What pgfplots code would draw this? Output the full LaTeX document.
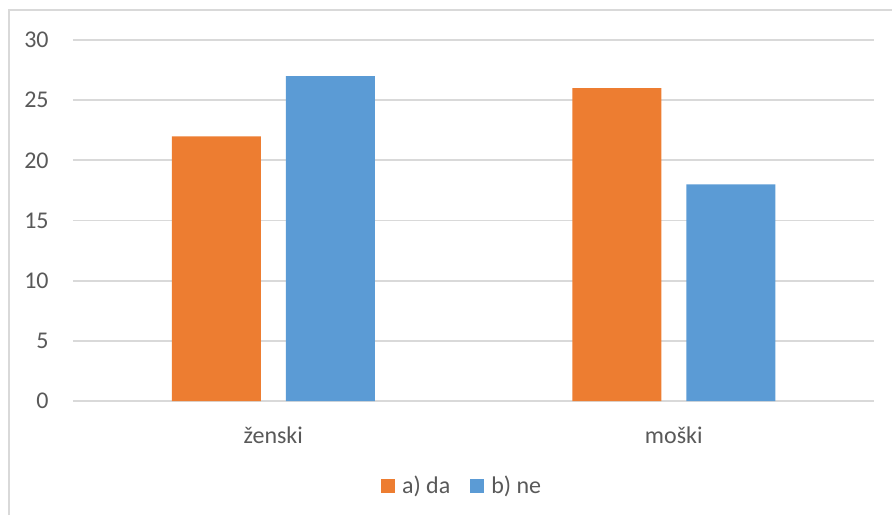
\documentclass[border=0pt]{standalone}
\usepackage{pgfplots}
\pgfplotsset{compat=1.18}
\usepackage{fontspec}
\setmainfont{Carlito}
\definecolor{cOr}{HTML}{ED7D31}
\definecolor{cBl}{HTML}{5B9BD5}
\definecolor{cTx}{HTML}{595959}
\definecolor{cGr}{HTML}{D9D9D9}
\begin{document}
\fontsize{12}{14}\selectfont
\begin{tikzpicture}[x=0.5pt,y=0.5pt]
\path[use as bounding box] (0,0) rectangle (892,515);
\draw[cGr, line width=1pt] (9,0) -- (9,505) -- (892,505);
\begin{axis}[
  at={(36.5pt,57pt)}, anchor=south west,
  scale only axis, width=400.5pt, height=180.5pt,
  xmin=-0.5, xmax=1.5, ymin=0, ymax=30,
  ybar=12.5pt, bar width=44.5pt,
  xtick={0,1}, xticklabels={ženski, moški},
  ytick={0,5,...,30},
  ymajorgrids, grid style={cGr, line width=0.9pt},
  axis line style={draw=none}, major tick length=0pt,
  tick label style={font=\fontsize{12}{14}\selectfont, text=cTx},
  /pgf/number format/assume math mode=true,
  yticklabel style={xshift=-8pt},
  xticklabel style={yshift=-8.5pt},
  legend style={at={(0.487,-0.2355)}, anchor=center, draw=none, fill=none,
    legend columns=2, font=\fontsize{12}{14}\selectfont, text=cTx,
    /tikz/every odd column/.append style={column sep=1.5pt},
    /tikz/every even column/.append style={column sep=8pt}},
  legend image code/.code={\fill[#1] (0pt,-3.5pt) rectangle (7pt,3.5pt);},
  clip=false,
]
\addplot[fill=cOr, draw=none] coordinates {(0,22) (1,26)};
\addplot[fill=cBl, draw=none] coordinates {(0,27) (1,18)};
\legend{a) da, b) ne}
\end{axis}
\end{tikzpicture}
\end{document}
